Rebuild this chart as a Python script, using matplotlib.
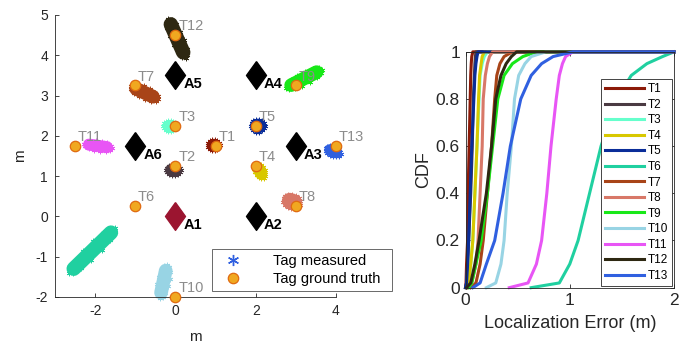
import numpy as np
import matplotlib
matplotlib.use("Agg")
import matplotlib.pyplot as plt
from matplotlib.lines import Line2D

plt.rcParams['font.family'] = ['Liberation Sans', 'DejaVu Sans']

# ---------------- data ----------------
tags = ['T1', 'T2', 'T3', 'T4', 'T5', 'T6', 'T7', 'T8', 'T9', 'T10', 'T11', 'T12', 'T13']
tag_colors = ['#8C1A08', '#4A3A42', '#66FFCC', '#D8C800', '#0A2D99', '#20D0A0', '#A84418',
              '#D87868', '#18E818', '#98D4E4', '#E855F5', '#2E2812', '#3060E0']
truth_x = [1, 0, 0, 2, 2, -1, -1, 3, 3, 0, -2.5, 0, 4]
truth_y = [1.75, 1.25, 2.25, 1.25, 2.25, 0.25, 3.25, 0.25, 3.25, -2, 1.75, 4.5, 1.75]

# measured clusters: centre, extent along main axis, extent across, orientation (deg)
meas_cx = [0.95, -0.05, -0.15, 2.1, 2.05, -2.07, -0.77, 2.9, 3.2, -0.3, -1.93, 0.04, 3.93]
meas_cy = [1.77, 1.15, 2.25, 1.12, 2.25, -0.85, 3.07, 0.37, 3.42, -1.62, 1.75, 4.42, 1.62]
meas_len = [0.36, 0.42, 0.36, 0.45, 0.4, 1.65, 0.8, 0.5, 1.05, 0.9, 0.75, 1.12, 0.45]
meas_wid = [0.32, 0.3, 0.32, 0.3, 0.36, 0.36, 0.34, 0.4, 0.34, 0.34, 0.3, 0.36, 0.3]
meas_ang = [0, 0, 0, -60, 0, 44, -25, -20, 27, 78, -8, -66, -20]

anchors = ['A1', 'A2', 'A3', 'A4', 'A5', 'A6']
anchor_x = [0, 2, 3, 2, 0, -1]
anchor_y = [0, 0, 1.75, 3.5, 3.5, 1.75]
anchor_colors = ['#9B1530', 'black', 'black', 'black', 'black', 'black']

# CDF of localisation error: error (m) at each CDF level
cdf_levels = [0, 0.02, 0.1, 0.2, 0.4, 0.6, 0.8, 0.9, 0.95, 0.98, 1.0]
cdf_err = {
    'T1':  [0.00, 0.005, 0.01, 0.02, 0.025, 0.035, 0.045, 0.05, 0.055, 0.06, 0.07],
    'T2':  [0.00, 0.01, 0.02, 0.03, 0.05, 0.065, 0.075, 0.085, 0.09, 0.095, 0.10],
    'T3':  [0.01, 0.03, 0.05, 0.07, 0.09, 0.11, 0.13, 0.14, 0.16, 0.18, 0.21],
    'T4':  [0.01, 0.03, 0.05, 0.07, 0.09, 0.11, 0.125, 0.135, 0.15, 0.16, 0.18],
    'T5':  [0.00, 0.01, 0.02, 0.03, 0.045, 0.06, 0.08, 0.09, 0.10, 0.11, 0.12],
    'T6':  [0.63, 0.90, 1.00, 1.08, 1.19, 1.30, 1.45, 1.59, 1.74, 1.89, 2.10],
    'T7':  [0.05, 0.10, 0.14, 0.17, 0.21, 0.25, 0.28, 0.30, 0.33, 0.37, 0.45],
    'T8':  [0.02, 0.06, 0.10, 0.12, 0.14, 0.16, 0.17, 0.19, 0.21, 0.23, 0.26],
    'T9':  [0.03, 0.06, 0.10, 0.15, 0.21, 0.26, 0.31, 0.37, 0.45, 0.55, 0.68],
    'T10': [0.20, 0.29, 0.34, 0.37, 0.40, 0.44, 0.47, 0.51, 0.57, 0.63, 0.77],
    'T11': [0.42, 0.60, 0.68, 0.73, 0.78, 0.82, 0.87, 0.90, 0.93, 0.96, 1.03],
    'T12': [0.01, 0.05, 0.09, 0.13, 0.20, 0.25, 0.29, 0.34, 0.39, 0.44, 0.49],
    'T13': [0.07, 0.14, 0.20, 0.28, 0.36, 0.43, 0.53, 0.63, 0.73, 0.84, 1.03],
}

TXT = '#262626'
DPI = 100
fig = plt.figure(figsize=(6.92, 3.48), dpi=DPI)

# ---------------- left: map ----------------
ax = fig.add_axes([0.0795, 0.1466, 0.406, 0.8104])
ax.set_xlim(-3, 4)
ax.set_ylim(-2, 5)
pt_per_m = 0.406 * 6.92 * 72 / 7.0  # points per metre along x

ring = np.linspace(0, 2 * np.pi, 14, endpoint=False)
for i, t in enumerate(tags):
    a = np.deg2rad(meas_ang[i])
    ca, sa = np.cos(a), np.sin(a)
    half = 0.5 * max(meas_len[i] - meas_wid[i], 0.01)
    xs = [meas_cx[i] - half * ca, meas_cx[i] + half * ca]
    ys = [meas_cy[i] - half * sa, meas_cy[i] + half * sa]
    ax.plot(xs, ys, color=tag_colors[i], lw=meas_wid[i] * pt_per_m,
            solid_capstyle='round', zorder=2, clip_on=False)
    # fuzzy rim of the cloud (asterisk markers)
    u = (0.5 * meas_len[i] - 0.03) * np.cos(ring)
    v = (0.5 * meas_wid[i] - 0.03) * np.sin(ring)
    ax.plot(meas_cx[i] + u * ca - v * sa, meas_cy[i] + u * sa + v * ca,
            ls='none', marker=(6, 2, 0), color=tag_colors[i], ms=4, mew=0.6,
            zorder=2, clip_on=False)

diamond = [(0, 1), (0.72, 0), (0, -1), (-0.72, 0), (0, 1)]
for i, a_ in enumerate(anchors):
    ax.plot(anchor_x[i], anchor_y[i], marker=diamond, ms=20, color=anchor_colors[i],
            ls='none', zorder=3)
    ax.text(anchor_x[i] + 0.2, anchor_y[i] - 0.22, a_, fontsize=10.5, fontweight='bold',
            color='black', ha='left', va='center', zorder=5)

ax.plot(truth_x, truth_y, ls='none', marker='o', ms=7.5, mfc='#F0A820', mec='#E06A10',
        mew=0.9, zorder=4, clip_on=False)
for i, t in enumerate(tags):
    ax.text(truth_x[i] + 0.07, truth_y[i] + 0.22, t, fontsize=10.5, color='#8C8C8C',
            ha='left', va='center', zorder=5, clip_on=False)

for s in ['top', 'right']:
    ax.spines[s].set_visible(False)
for s in ['left', 'bottom']:
    ax.spines[s].set_color(TXT)
    ax.spines[s].set_linewidth(0.6)
ax.set_xticks([-2, 0, 2, 4])
ax.set_yticks([-2, -1, 0, 1, 2, 3, 4, 5])
ax.set_xticklabels(['-2', '0', '2', '4'])
ax.set_yticklabels(['-2', '-1', '0', '1', '2', '3', '4', '5'])
ax.tick_params(direction='in', length=3, width=0.6, colors=TXT, labelsize=10, pad=5)
ax.set_xlabel('m', fontsize=11, color=TXT, labelpad=9)
ax.set_ylabel('m', fontsize=11, color=TXT, labelpad=6)

h1 = Line2D([], [], ls='none', marker=(6, 2, 0), color='#3060E0', ms=8, mew=1)
h2 = Line2D([], [], ls='none', marker='o', ms=7.5, mfc='#F0A820', mec='#E06A10', mew=0.9)
leg = ax.legend([h1, h2], ['Tag measured', 'Tag ground truth'], loc='lower left',
                bbox_to_anchor=(212 / 692, (348 - 291) / 348, 180 / 692, 47 / 348),
                bbox_transform=fig.transFigure, mode='expand', fontsize=10.5,
                frameon=True, fancybox=False, edgecolor=TXT, borderaxespad=0,
                handletextpad=1.6, labelspacing=0.25, borderpad=0.35, handlelength=2.2)
leg.get_frame().set_linewidth(0.6)
leg.set_zorder(6)
for txt in leg.get_texts():
    txt.set_color('black')

# ---------------- right: CDF ----------------
bx = fig.add_axes([0.6727, 0.1734, 0.3013, 0.6776])
for i, t in enumerate(tags):
    xs = list(cdf_err[t])
    ys = list(cdf_levels)
    if xs[-1] < 2:
        xs.append(2.0)
        ys.append(1.0)
    xs = np.clip(xs, 0, 2)
    bx.plot(xs, ys, color=tag_colors[i], lw=2.2, label=t, clip_on=False,
            solid_joinstyle='round')
bx.set_xlim(0, 2)
bx.set_ylim(0, 1)
bx.set_xticks([0, 1, 2])
bx.set_xticklabels(['0', '1', '2'])
bx.set_yticks([0, 0.2, 0.4, 0.6, 0.8, 1])
bx.set_yticklabels(['0', '0.2', '0.4', '0.6', '0.8', '1'])
bx.tick_params(direction='in', length=3, width=0.6, colors=TXT, labelsize=12.5, pad=4,
               top=True, right=True)
for s in bx.spines.values():
    s.set_color(TXT)
    s.set_linewidth(0.6)
bx.set_xlabel('Localization Error (m)', fontsize=13, color=TXT, labelpad=5)
bx.set_ylabel('CDF', fontsize=13, color=TXT, labelpad=3)

leg2 = bx.legend(loc='lower right', bbox_to_anchor=(1.0, 0.0), fontsize=8.5, frameon=True,
                 fancybox=False, edgecolor=TXT, borderaxespad=0.15, handlelength=3.3,
                 handletextpad=0.3, labelspacing=0.3, borderpad=0.35, framealpha=1)
leg2.get_frame().set_linewidth(0.6)
leg2.set_zorder(6)
for txt in leg2.get_texts():
    txt.set_color('black')

fig.savefig('out.png', dpi=DPI)
